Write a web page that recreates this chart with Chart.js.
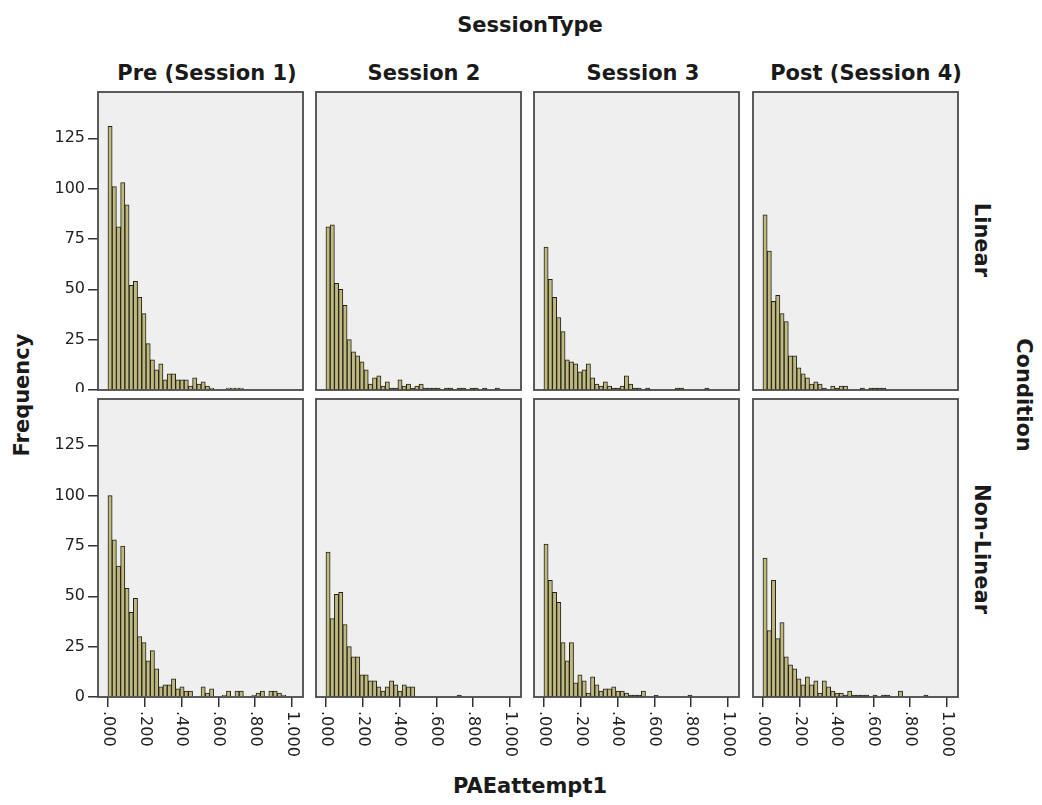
<!DOCTYPE html>
<html>
<head>
<meta charset="utf-8">
<script src="https://cdn.jsdelivr.net/npm/chart.js@4.4.1/dist/chart.umd.min.js"></script>
<style>
  body { margin: 0; background: #fff; width: 1042px; height: 805px; position: relative; overflow: hidden; font-family: "DejaVu Sans", sans-serif; }
  canvas { position: absolute; }
  .lbl { position: absolute; font-weight: bold; color: #1a1a1a; white-space: nowrap; font-size: 21px; }
</style>
</head>
<body>
<script>
// histogram counts per bin, bin width BIN starting at 0
var BIN = 0.023;
var preLinear     = [131,101,81,103,92,52,54,46,38,23,15,10,13,5,8,8,5,5,5,2,6,3,4,2,1,0,0,0,1,1,1,1];
var s2Linear      = [81,82,53,50,42,25,19,17,14,10,3,6,7,2,4,1,1,5,2,3,1,2,3,1,1,1,1,0,1,1,0,1,1,0,1,1,0,1,0,0,1];
var s3Linear      = [71,55,46,36,29,15,14,13,9,10,13,6,3,2,4,2,1,1,2,7,3,1,1,0,1,0,0,0,0,0,0,1,1,0,0,0,0,0,1];
var postLinear    = [87,69,44,47,38,34,17,17,11,8,6,3,4,3,1,0,2,1,2,2,0,0,0,1,0,1,1,1,1];
var preNonLinear  = [100,78,65,75,54,42,49,30,27,18,23,14,5,6,6,9,4,5,3,3,0,0,5,2,4,0,0,1,3,0,3,3,0,0,1,2,3,0,3,3,2,1];
var s2NonLinear   = [72,39,51,52,36,25,20,20,11,11,8,8,5,3,5,8,6,3,6,5,5,0,0,0,0,0,0,0,0,0,0,1];
var s3NonLinear   = [76,58,52,47,27,18,27,7,11,8,2,10,6,3,4,4,5,3,3,2,1,1,1,3,0,0,1,0,0,0,0,0,0,0,1];
var postNonLinear = [69,33,58,29,37,20,16,14,9,6,10,6,8,2,8,5,3,2,2,1,3,1,1,1,1,0,1,0,1,1,0,0,3,0,0,0,0,0,1];

var sessions = ['Pre (Session 1)', 'Session 2', 'Session 3', 'Post (Session 4)'];
var conditions = ['Linear', 'Non-Linear'];
var xTickValues = [0, 0.2, 0.4, 0.6, 0.8, 1.0];
var xTickLabels = ['.000', '.200', '.400', '.600', '.800', '1.000'];
var yStep = 25;

var grid = [
  [preLinear, s2Linear, s3Linear, postLinear],
  [preNonLinear, s2NonLinear, s3NonLinear, postNonLinear]
];

// layout
var FRAME_LEFT = [98, 316, 534, 753], FRAME_TOP = [92, 399];
var FW = 205, FH = 298, PAD = 2, YAXIS_W = 58, XAXIS_H = 70;
var X_MIN = -0.054, X_MAX = 1.06, Y_MAX = 148;

function label(text, cx, cy, rot) {
  var d = document.createElement('div');
  d.className = 'lbl';
  d.textContent = text;
  d.style.left = cx + 'px';
  d.style.top = cy + 'px';
  d.style.transform = 'translate(-50%,-50%) rotate(' + (rot || 0) + 'deg)';
  document.body.appendChild(d);
}

label('SessionType', 530, 25);
var titleX = [207, 424, 643, 866];
for (var c = 0; c < 4; c++) label(sessions[c], titleX[c], 73);
label('Frequency', 22, 395, -90);
label('Condition', 1024, 395, 90);
label(conditions[0], 982, 240, 90);
label(conditions[1], 982, 549, 90);
label('PAEattempt1', 530, 786);

var panelPlugin = {
  id: 'panel',
  beforeDraw: function(chart) {
    var a = chart.chartArea, ctx = chart.ctx;
    ctx.save();
    ctx.fillStyle = '#efefef';
    ctx.fillRect(a.left, a.top, a.right - a.left, a.bottom - a.top);
    ctx.restore();
  },
  afterDraw: function(chart) {
    var a = chart.chartArea, ctx = chart.ctx;
    ctx.save();
    ctx.strokeStyle = '#4a4a4a';
    ctx.lineWidth = 1.8;
    ctx.strokeRect(a.left, a.top, a.right - a.left, a.bottom - a.top);
    var xs = chart.scales.x;
    if (xs.options.display) {
      ctx.fillStyle = '#222';
      ctx.font = '16px "DejaVu Sans"';
      ctx.textAlign = 'left';
      ctx.textBaseline = 'middle';
      xs.ticks.forEach(function(t, i) {
        var px = xs.getPixelForValue(t.value);
        ctx.save();
        ctx.translate(px, a.bottom + 14);
        ctx.rotate(Math.PI / 2);
        ctx.fillText(xTickLabels[i], 0, 0);
        ctx.restore();
      });
    }
    ctx.restore();
  }
};

function makePanel(r, c) {
  var counts = grid[r][c];
  var showX = r === 1, showY = c === 0;
  var canvas = document.createElement('canvas');
  var left = FRAME_LEFT[c] - PAD - (showY ? YAXIS_W : 0);
  var top = FRAME_TOP[r] - PAD;
  var w = FW + 2 * PAD + (showY ? YAXIS_W : 0);
  var h = FH + 2 * PAD + (showX ? XAXIS_H : 0);
  canvas.width = w; canvas.height = h;
  canvas.style.left = left + 'px'; canvas.style.top = top + 'px';
  canvas.style.width = w + 'px'; canvas.style.height = h + 'px';
  document.body.appendChild(canvas);

  var points = counts.map(function(v, i) { return { x: (i + 0.5) * BIN, y: v }; });

  new Chart(canvas, {
    type: 'bar',
    data: {
      datasets: [{
        data: points,
        backgroundColor: '#bfb87f',
        borderColor: '#222218',
        borderWidth: 1,
        borderSkipped: 'start',
        barPercentage: 1,
        categoryPercentage: 1
      }]
    },
    options: {
      responsive: false,
      animation: false,
      devicePixelRatio: 1,
      layout: { padding: PAD },
      plugins: { legend: { display: false }, tooltip: { enabled: false } },
      scales: {
        x: {
          type: 'linear', min: X_MIN, max: X_MAX, offset: false,
          display: showX,
          afterBuildTicks: function(s) { s.ticks = xTickValues.map(function(v) { return { value: v }; }); },
          afterFit: function(s) {
            s.height = showX ? XAXIS_H : 0;
            s.paddingLeft = 0; s.paddingRight = 0;
          },
          grid: { display: true, offset: false, drawOnChartArea: false, drawTicks: true, tickLength: 10, color: '#333', lineWidth: 1.5 },
          border: { display: false },
          ticks: { display: false }
        },
        y: {
          min: 0, max: Y_MAX,
          display: showY,
          afterFit: function(s) {
            s.width = showY ? YAXIS_W : 0;
            s.paddingTop = 0; s.paddingBottom = 0;
          },
          grid: { display: true, drawOnChartArea: false, drawTicks: true, tickLength: 10, color: '#333', lineWidth: 1.5 },
          border: { display: false },
          ticks: { stepSize: yStep, includeBounds: false, color: '#222', padding: 3, font: { size: 16, family: 'DejaVu Sans' } }
        }
      }
    },
    plugins: [panelPlugin]
  });
}

for (var r = 0; r < 2; r++)
  for (var cc = 0; cc < 4; cc++) makePanel(r, cc);
</script>
</body>
</html>
